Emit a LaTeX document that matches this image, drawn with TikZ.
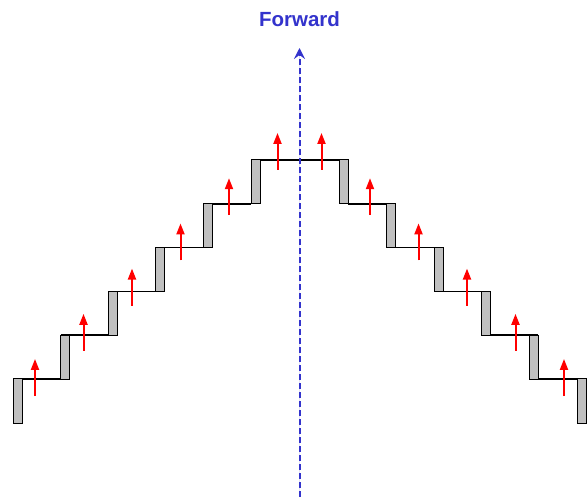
\documentclass[tikz,border=0pt]{standalone}
\usepackage{fontspec}
\setmainfont{Liberation Sans}
\usetikzlibrary{arrows.meta}
\definecolor{fwdblue}{RGB}{51,51,204}
\definecolor{stepgray}{RGB}{192,192,192}
\tikzset{
  riser/.style={draw=black,fill=stepgray,line width=1pt},
  tread/.style={draw=black,line width=1.6pt},
  push/.style={color=red,line width=2pt,-{Triangle[length=11pt,width=8pt]}},
  fwdline/.style={draw=fwdblue,fill=fwdblue,line width=2pt,dash pattern=on 6pt off 3pt,-{Stealth[length=11pt,width=11pt,inset=4pt]}},
  fwdlabel/.style={text=fwdblue,font=\bfseries\fontsize{20.5}{24}\selectfont,inner sep=0pt}
}
\begin{document}
\begin{tikzpicture}[x=1pt,y=-1pt]
\useasboundingbox (0,0) rectangle (587,497);
% steps
\foreach \i in {0,...,5}{
  \pgfmathsetmacro{\xl}{13+47.6*\i}
  \pgfmathsetmacro{\xr}{586-47.6*\i}
  \pgfmathsetmacro{\yt}{379-43.8*\i}
  \coordinate (L\i) at (\xl,\yt);
  \coordinate (R\i) at (\xr,\yt);
}
% treads
\foreach \i [evaluate=\i as \j using int(\i+1)] in {0,...,4}{
  \draw[tread] (L\i) -- (L\j |- L\i);
  \draw[tread] (R\i) -- (R\j |- R\i);
}
\draw[tread] (L5) -- (R5);
% risers
\foreach \i in {0,...,5}{
  \draw[riser] (L\i) rectangle ++(9,44);
  \draw[riser] (R\i) rectangle ++(-9,44);
}
% arrows
\foreach \i in {0,...,5}{
  \pgfmathsetmacro{\ax}{35+48.5*\i}
  \pgfmathsetmacro{\bx}{564-48.5*\i}
  \pgfmathsetmacro{\ay}{396-45.2*\i}
  \coordinate (la\i) at (\ax,\ay);
  \coordinate (ra\i) at (\bx,\ay);
  \draw[push] (la\i) -- ++(0,-37);
  \draw[push] (ra\i) -- ++(0,-37);
}
% forward
\coordinate (fb) at (299.5,497);
\coordinate (ft) at (299.5,48);
\draw[fwdline] (fb) -- (ft);
\node[fwdlabel] (fwd) at (299.5,19) {Forward};
\end{tikzpicture}
\end{document}
